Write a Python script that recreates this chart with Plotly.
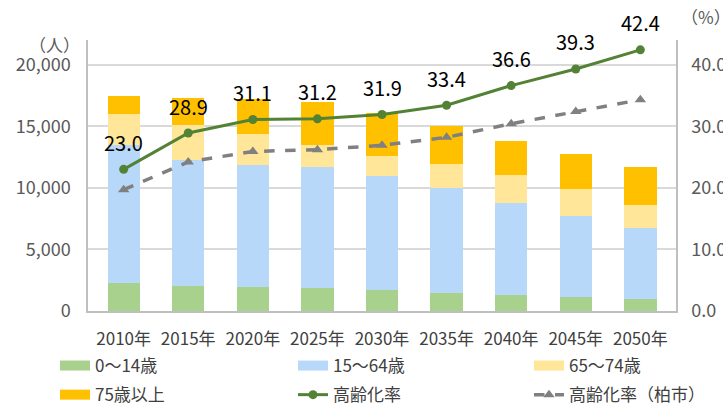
import plotly.graph_objects as go

years = ["2010年", "2015年", "2020年", "2025年", "2030年", "2035年", "2040年", "2045年", "2050年"]
age_0_14 = [2250, 2030, 1950, 1870, 1730, 1490, 1300, 1140, 1000]
age_15_64 = [11190, 10240, 9940, 9780, 9190, 8490, 7460, 6560, 5720]
age_65_74 = [2580, 2870, 2520, 1850, 1680, 1970, 2320, 2220, 1890]
age_75_over = [1460, 2140, 2820, 3470, 3470, 3070, 2740, 2820, 3110]
aging_rate = [23.0, 28.9, 31.1, 31.2, 31.9, 33.4, 36.6, 39.3, 42.4]
aging_rate_city = [19.7, 24.2, 25.9, 26.2, 26.9, 28.2, 30.4, 32.4, 34.3]

bar_names = ["0〜14歳", "15〜64歳", "65〜74歳", "75歳以上"]
bar_values = [age_0_14, age_15_64, age_65_74, age_75_over]
bar_colors = ["#A9D18E", "#B8D8FA", "#FFE699", "#FFC000"]
line_green = "#548235"
line_gray = "#808080"
FONT = "Noto Sans CJK JP"

fig = go.Figure()
for name, vals, col in zip(bar_names, bar_values, bar_colors):
    fig.add_trace(go.Bar(x=years, y=vals, name=name, marker=dict(color=col, line=dict(width=0)),
                         showlegend=False, yaxis="y"))

fig.add_trace(go.Scatter(x=years, y=aging_rate, mode="lines+markers", name="高齢化率",
                         line=dict(color=line_green, width=3),
                         marker=dict(symbol="circle", size=9, color=line_green),
                         yaxis="y2", showlegend=False))
fig.add_trace(go.Scatter(x=years, y=aging_rate_city, mode="lines+markers", name="高齢化率（柏市）",
                         line=dict(color=line_gray, width=3.5, dash="dash"),
                         marker=dict(symbol="triangle-up", size=10, color=line_gray),
                         yaxis="y2", showlegend=False))

# legend proxies: 3 columns x 2 rows
legend_layout = [
    ("legend", [(bar_names[0], bar_colors[0], "bar"), (bar_names[3], bar_colors[3], "bar")]),
    ("legend2", [(bar_names[1], bar_colors[1], "bar"), ("高齢化率", line_green, "green")]),
    ("legend3", [(bar_names[2], bar_colors[2], "bar"), ("高齢化率（柏市）", line_gray, "gray")]),
]
gi = 0
for leg, items in legend_layout:
    for name, col, kind in items:
        gi += 1
        px = [years[0]]
        py = [None]
        if kind == "bar":
            tr = go.Scatter(x=px, y=py, mode="lines", name=name,
                            line=dict(color=col, width=10))
        elif kind == "green":
            tr = go.Scatter(x=px, y=py, mode="lines+markers", name=name,
                            line=dict(color=col, width=3),
                            marker=dict(symbol="circle", size=9, color=col))
        else:
            tr = go.Scatter(x=px, y=py, mode="lines+markers", name=name,
                            line=dict(color=col, width=3.5, dash="dash"),
                            marker=dict(symbol="triangle-up", size=10, color=col))
        tr.update(legend=leg, legendgroup=f"g{gi}", showlegend=True, yaxis="y2", hoverinfo="skip")
        fig.add_trace(tr)

annotations = []
for yr, v in zip(years, aging_rate):
    annotations.append(dict(x=yr, y=v, xref="x", yref="y2", text=f"{v:.1f}", showarrow=False,
                            yshift=27, font=dict(family=FONT, size=20, color="#000000")))
annotations.append(dict(x=-0.057, y=0.985, xref="paper", yref="paper", text="（人）", showarrow=False,
                        xanchor="center", yanchor="middle", font=dict(family=FONT, size=17, color="#595959")))
annotations.append(dict(x=1.005, y=1.085, xref="paper", yref="paper", text="（%）", showarrow=False,
                        xanchor="left", yanchor="middle", font=dict(family=FONT, size=17, color="#595959")))

leg_common = dict(orientation="v", xref="container", yref="container", yanchor="top", xanchor="left",
                  tracegroupgap=4, bgcolor="rgba(0,0,0,0)",
                  font=dict(family=FONT, size=17, color="#404040"))
legx = [55 / 723, 293 / 723, 529 / 723]
legy = (403 - 348) / 403

fig.update_layout(
    width=723, height=403,
    margin=dict(l=88, r=47, t=40, b=92, autoexpand=False),
    paper_bgcolor="white", plot_bgcolor="white",
    barmode="stack", bargap=0.5,
    font=dict(family=FONT, size=17, color="#595959"),
    xaxis=dict(type="category", showline=True, linecolor="#BFBFBF", linewidth=1.5, ticks="",
               showgrid=False, tickangle=0, automargin=False, ticklabelstandoff=12,
               tickfont=dict(family=FONT, size=17, color="#404040")),
    yaxis=dict(range=[0, 22000], dtick=5000, tickformat=",", showline=True, linecolor="#BFBFBF",
               linewidth=1.5, gridcolor="#D9D9D9", gridwidth=1.5, zeroline=False, ticks="",
               automargin=False,
               ticklabelstandoff=12, tickfont=dict(family=FONT, size=18, color="#595959")),
    yaxis2=dict(range=[0, 44], dtick=10, tickformat=".1f", overlaying="y", side="right",
                showline=True, linecolor="#BFBFBF", linewidth=1.5, showgrid=False, zeroline=False,
                ticks="", automargin=False,
                ticklabelstandoff=10, tickfont=dict(family=FONT, size=18, color="#595959")),
    annotations=annotations,
    legend=dict(x=legx[0], y=legy, **leg_common),
    legend2=dict(x=legx[1], y=legy, **leg_common),
    legend3=dict(x=legx[2], y=legy, **leg_common),
)

fig.write_html("out.html", config={"displayModeBar": False},
               post_script="document.body.style.margin='0';")
